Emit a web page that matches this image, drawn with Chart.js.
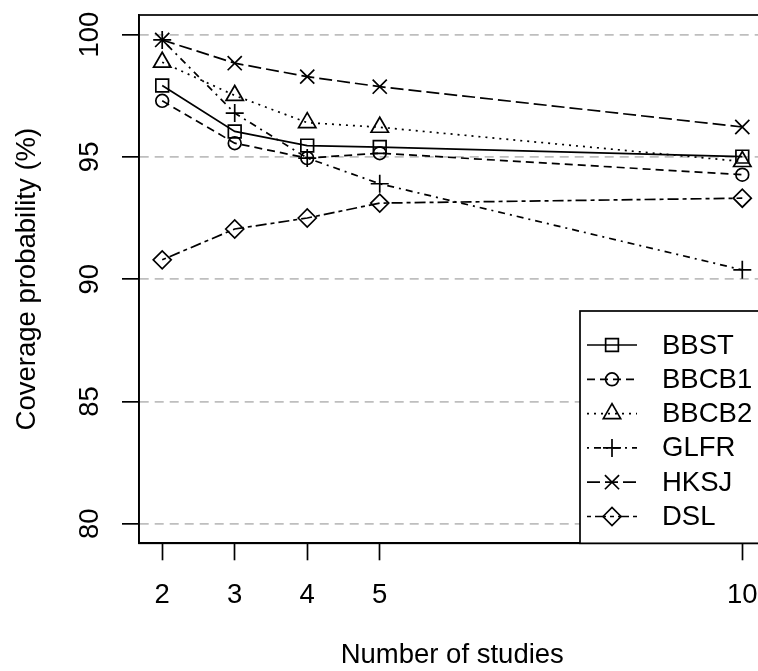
<!DOCTYPE html>
<html>
<head>
<meta charset="utf-8">
<script src="https://cdn.jsdelivr.net/npm/chart.js"></script>
<style>
  html, body { margin: 0; padding: 0; background: #fff; overflow: hidden; }
  #wrap { width: 800px; height: 671px; }
</style>
</head>
<body>
<div id="wrap"><canvas id="coverage" width="800" height="671"></canvas></div>
<script>
// values (coverage probability, %)
const studies = [2, 3, 4, 5, 10];
const bbst  = [97.92, 96.04, 95.46, 95.40, 95.01];
const bbcb1 = [97.29, 95.56, 94.95, 95.15, 94.27];
const bbcb2 = [98.87, 97.51, 96.40, 96.21, 94.81];
const glfr  = [99.78, 96.79, 94.95, 93.90, 90.38];
const hksj  = [99.78, 98.83, 98.28, 97.87, 96.22];
const dsl   = [90.79, 92.05, 92.50, 93.11, 93.31];

const methods = ['BBST', 'BBCB1', 'BBCB2', 'GLFR', 'HKSJ', 'DSL'];
const xTicks = [2, 3, 4, 5, 10];
const yTicks = [80, 85, 90, 95, 100];

const FONT = '"Liberation Sans", Arial, Helvetica, sans-serif';
const LW = 1.7;

// R-like marker + line type for each method
const looks = [
  { pointStyle: 'rect',     radius: 9,   dash: [] },
  { pointStyle: 'circle',   radius: 6.4, dash: [8, 5] },
  { pointStyle: 'triangle', radius: 10,  dash: [2, 5] },
  { pointStyle: 'cross',    radius: 9,   dash: [2, 5, 7, 5] },
  { pointStyle: 'crossRot', radius: 10,  dash: [13, 5] },
  { pointStyle: 'rectRot',  radius: 9,   dash: [4, 4, 11, 4] }
];
const series = [bbst, bbcb1, bbcb2, glfr, hksj, dsl];

const datasets = methods.map((name, i) => ({
  label: name,
  data: studies.map((x, j) => ({ x: x, y: series[i][j] })),
  borderColor: '#000',
  borderWidth: LW,
  borderDash: looks[i].dash,
  tension: 0,
  fill: false,
  pointStyle: looks[i].pointStyle,
  pointRadius: looks[i].radius,
  pointHoverRadius: looks[i].radius,
  pointBorderColor: '#000',
  pointBackgroundColor: 'rgba(0,0,0,0)',
  pointBorderWidth: LW
}));

// box round the plot region + the R style legend in the corner
const boxAndLegend = {
  id: 'boxAndLegend',
  afterDraw(chart) {
    const ctx = chart.ctx;
    const a = chart.chartArea;
    ctx.save();
    ctx.setLineDash([]);
    ctx.strokeStyle = '#000';
    ctx.lineWidth = LW;
    ctx.strokeRect(a.left, a.top, a.right - a.left, a.bottom - a.top);

    // legend
    const lx = 580, ly = 311, lb = a.bottom;
    ctx.fillStyle = '#fff';
    ctx.fillRect(lx, ly, 300, lb - ly);
    ctx.strokeRect(lx, ly, 300, lb - ly);

    ctx.font = '27.5px ' + FONT;
    ctx.textBaseline = 'middle';
    ctx.textAlign = 'left';
    methods.forEach((name, i) => {
      const y = 345 + i * 34.3;
      ctx.strokeStyle = '#000';
      ctx.lineWidth = LW;
      ctx.setLineDash(looks[i].dash);
      ctx.beginPath();
      ctx.moveTo(587, y);
      ctx.lineTo(637, y);
      ctx.stroke();
      ctx.setLineDash([]);
      ctx.fillStyle = 'rgba(0,0,0,0)';
      Chart.helpers.drawPoint(ctx, {
        pointStyle: looks[i].pointStyle,
        radius: looks[i].radius,
        rotation: 0,
        borderWidth: LW
      }, 612, y);
      ctx.fillStyle = '#000';
      ctx.fillText(name, 662, y + 1);
    });
    ctx.restore();
  }
};

new Chart(document.getElementById('coverage').getContext('2d'), {
  type: 'line',
  data: { datasets: datasets },
  plugins: [boxAndLegend],
  options: {
    responsive: false,
    animation: false,
    devicePixelRatio: 1,
    layout: { padding: { left: 0, top: 15, right: 34.5, bottom: 0 } },
    plugins: { legend: { display: false }, tooltip: { enabled: false } },
    scales: {
      x: {
        type: 'linear',
        min: 1.68,
        max: 10.32,
        afterBuildTicks: s => { s.ticks = xTicks.map(v => ({ value: v })); },
        afterFit: s => { s.height = 127.7; s.paddingLeft = 0; s.paddingRight = 0; },
        grid: { drawOnChartArea: false, drawTicks: true, tickLength: 17, tickColor: '#000', tickWidth: LW },
        border: { display: true, color: '#000', width: LW },
        ticks: {
          autoSkip: false, maxRotation: 0, minRotation: 0, padding: 19,
          color: '#000', font: { family: FONT, size: 27.5 },
          callback: v => String(v)
        },
        title: {
          display: true, text: 'Number of studies', color: '#000',
          font: { family: FONT, size: 27.5, lineHeight: 1.1 }, padding: { top: 0, bottom: 0 }
        }
      },
      y: {
        type: 'linear',
        min: 79.2,
        max: 100.8,
        afterBuildTicks: s => { s.ticks = yTicks.map(v => ({ value: v })); },
        afterFit: s => { s.width = 139; s.paddingTop = 0; s.paddingBottom = 0; },
        grid: { color: '#bebebe', lineWidth: LW, drawTicks: true, tickLength: 17, tickColor: '#000', tickWidth: LW },
        border: { display: true, color: '#000', width: LW, dash: [9, 6] },
        ticks: {
          minRotation: 90, maxRotation: 90, crossAlign: 'center', padding: 8.5,
          color: '#000', font: { family: FONT, size: 27.5 },
          callback: v => String(v)
        },
        title: {
          display: true, text: 'Coverage probability (%)', color: '#000',
          font: { family: FONT, size: 27.5 }, padding: { top: 11, bottom: 0 }
        }
      }
    }
  }
});
</script>
</body>
</html>
